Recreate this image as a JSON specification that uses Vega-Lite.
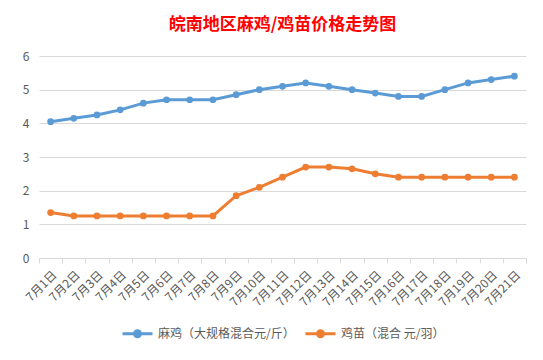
{
  "$schema": "https://vega.github.io/schema/vega-lite/v6.json",
  "autosize": {"type": "none"},
  "width": 487,
  "height": 202,
  "padding": {"left": 39, "top": 56, "right": 17, "bottom": 102},
  "background": "white",
  "title": {
    "text": "皖南地区麻鸡/鸡苗价格走势图",
    "color": "#FF0000",
    "font": "Noto Sans CJK SC",
    "fontSize": 17,
    "fontWeight": "bold",
    "anchor": "middle",
    "offset": 16
  },
  "config": {
    "view": {"stroke": null},
    "font": "Noto Sans CJK SC",
    "legend": {"layout": {"bottom": {"anchor": "middle"}}}
  },
  "data": {
    "values": [
      {"date": "7月1日", "series": "麻鸡（大规格混合元/斤）", "price": 4.05},
      {"date": "7月2日", "series": "麻鸡（大规格混合元/斤）", "price": 4.15},
      {"date": "7月3日", "series": "麻鸡（大规格混合元/斤）", "price": 4.25},
      {"date": "7月4日", "series": "麻鸡（大规格混合元/斤）", "price": 4.4},
      {"date": "7月5日", "series": "麻鸡（大规格混合元/斤）", "price": 4.6},
      {"date": "7月6日", "series": "麻鸡（大规格混合元/斤）", "price": 4.7},
      {"date": "7月7日", "series": "麻鸡（大规格混合元/斤）", "price": 4.7},
      {"date": "7月8日", "series": "麻鸡（大规格混合元/斤）", "price": 4.7},
      {"date": "7月9日", "series": "麻鸡（大规格混合元/斤）", "price": 4.85},
      {"date": "7月10日", "series": "麻鸡（大规格混合元/斤）", "price": 5.0},
      {"date": "7月11日", "series": "麻鸡（大规格混合元/斤）", "price": 5.1},
      {"date": "7月12日", "series": "麻鸡（大规格混合元/斤）", "price": 5.2},
      {"date": "7月13日", "series": "麻鸡（大规格混合元/斤）", "price": 5.1},
      {"date": "7月14日", "series": "麻鸡（大规格混合元/斤）", "price": 5.0},
      {"date": "7月15日", "series": "麻鸡（大规格混合元/斤）", "price": 4.9},
      {"date": "7月16日", "series": "麻鸡（大规格混合元/斤）", "price": 4.8},
      {"date": "7月17日", "series": "麻鸡（大规格混合元/斤）", "price": 4.8},
      {"date": "7月18日", "series": "麻鸡（大规格混合元/斤）", "price": 5.0},
      {"date": "7月19日", "series": "麻鸡（大规格混合元/斤）", "price": 5.2},
      {"date": "7月20日", "series": "麻鸡（大规格混合元/斤）", "price": 5.3},
      {"date": "7月21日", "series": "麻鸡（大规格混合元/斤）", "price": 5.4},
      {"date": "7月1日", "series": "鸡苗（混合 元/羽）", "price": 1.35},
      {"date": "7月2日", "series": "鸡苗（混合 元/羽）", "price": 1.25},
      {"date": "7月3日", "series": "鸡苗（混合 元/羽）", "price": 1.25},
      {"date": "7月4日", "series": "鸡苗（混合 元/羽）", "price": 1.25},
      {"date": "7月5日", "series": "鸡苗（混合 元/羽）", "price": 1.25},
      {"date": "7月6日", "series": "鸡苗（混合 元/羽）", "price": 1.25},
      {"date": "7月7日", "series": "鸡苗（混合 元/羽）", "price": 1.25},
      {"date": "7月8日", "series": "鸡苗（混合 元/羽）", "price": 1.25},
      {"date": "7月9日", "series": "鸡苗（混合 元/羽）", "price": 1.85},
      {"date": "7月10日", "series": "鸡苗（混合 元/羽）", "price": 2.1},
      {"date": "7月11日", "series": "鸡苗（混合 元/羽）", "price": 2.4},
      {"date": "7月12日", "series": "鸡苗（混合 元/羽）", "price": 2.7},
      {"date": "7月13日", "series": "鸡苗（混合 元/羽）", "price": 2.7},
      {"date": "7月14日", "series": "鸡苗（混合 元/羽）", "price": 2.65},
      {"date": "7月15日", "series": "鸡苗（混合 元/羽）", "price": 2.5},
      {"date": "7月16日", "series": "鸡苗（混合 元/羽）", "price": 2.4},
      {"date": "7月17日", "series": "鸡苗（混合 元/羽）", "price": 2.4},
      {"date": "7月18日", "series": "鸡苗（混合 元/羽）", "price": 2.4},
      {"date": "7月19日", "series": "鸡苗（混合 元/羽）", "price": 2.4},
      {"date": "7月20日", "series": "鸡苗（混合 元/羽）", "price": 2.4},
      {"date": "7月21日", "series": "鸡苗（混合 元/羽）", "price": 2.4}
    ]
  },
  "mark": {
    "type": "line",
    "strokeWidth": 3,
    "point": {"filled": true, "size": 45, "opacity": 1}
  },
  "encoding": {
    "x": {
      "field": "date",
      "type": "ordinal",
      "sort": null,
      "title": null,
      "scale": {"paddingInner": 0, "paddingOuter": 0},
      "axis": {
        "labelAngle": -45,
        "labelFontSize": 12,
        "labelColor": "#595959",
        "domainColor": "#d9d9d9",
        "tickColor": "#d9d9d9",
        "tickBand": "extent",
        "tickSize": 5,
        "labelPadding": 6,
        "grid": false
      }
    },
    "y": {
      "field": "price",
      "type": "quantitative",
      "title": null,
      "scale": {"domain": [0, 6], "nice": false},
      "axis": {
        "values": [0, 1, 2, 3, 4, 5, 6],
        "labelFontSize": 12,
        "labelColor": "#595959",
        "domain": false,
        "ticks": false,
        "gridColor": "#d9d9d9",
        "labelPadding": 10
      }
    },
    "color": {
      "field": "series",
      "type": "nominal",
      "sort": null,
      "title": null,
      "scale": {"range": ["#5B9BD5", "#ED7D31"]},
      "legend": {
        "orient": "bottom",
        "direction": "horizontal",
        "offset": 9,
        "labelFontSize": 12,
        "labelColor": "#595959",
        "symbolType": "M-1,0L-0.2,0M0.2,0L1,0M0.2,0A0.2,0.2 0 1 1 -0.2,0A0.2,0.2 0 1 1 0.2,0Z",
        "symbolSize": 900,
        "symbolStrokeWidth": 3,
        "labelOffset": 4,
        "columnPadding": 4,
        "encode": {
          "symbols": {"update": {"fill": {"scale": "color", "field": "value"}, "fillOpacity": {"value": 1}}}
        }
      }
    }
  }
}
